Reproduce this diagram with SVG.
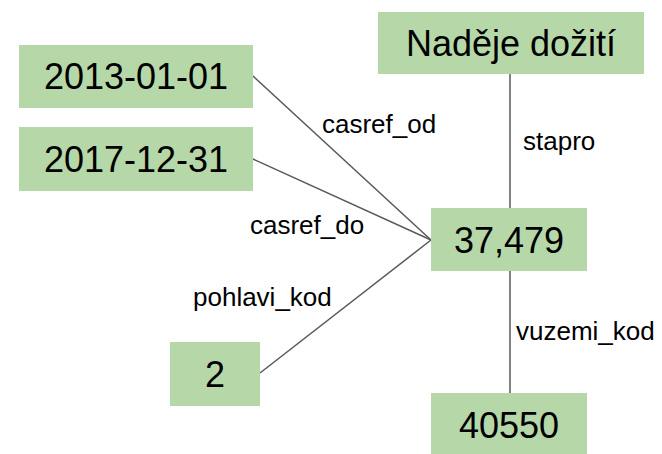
<svg xmlns="http://www.w3.org/2000/svg" width="662" height="454" viewBox="0 0 662 454">
<style>
.box{fill:#b6d7a8;stroke:none}
.nt{font-family:"Liberation Sans",Arial,sans-serif;font-size:36px;fill:#000;text-anchor:middle}
.lb{font-family:"Liberation Sans",Arial,sans-serif;font-size:26px;fill:#000}
.ln{stroke:#595959;stroke-width:1.5;fill:none}
</style>
<rect width="662" height="454" fill="#fff"/>
<g id="connectors">
<line class="ln" x1="253" y1="76" x2="431" y2="240"/>
<line class="ln" x1="253" y1="159" x2="431" y2="240"/>
<line class="ln" x1="260" y1="373" x2="431" y2="240"/>
<line class="ln" x1="510" y1="74" x2="510" y2="208"/>
<line class="ln" x1="510" y1="271" x2="510" y2="393"/>
<text class="lb" x="322" y="133">casref_od</text>
<text class="lb" x="523" y="150">stapro</text>
<text class="lb" x="250" y="234">casref_do</text>
<text class="lb" x="193" y="306">pohlavi_kod</text>
<text class="lb" x="516" y="340">vuzemi_kod</text>
</g>
<g id="n-nadeje"><rect class="box" x="378" y="12" width="266" height="62"/><text class="nt" x="511" y="56">Naděje dožití</text></g>
<g id="n-2013"><rect class="box" x="19" y="45" width="234" height="63"/><text class="nt" x="136" y="89">2013-01-01</text></g>
<g id="n-2017"><rect class="box" x="19" y="127" width="234" height="64"/><text class="nt" x="136" y="172">2017-12-31</text></g>
<g id="n-value"><rect class="box" x="431" y="208" width="156" height="63"/><text class="nt" x="509" y="253">37,479</text></g>
<g id="n-2"><rect class="box" x="170" y="342" width="90" height="64"/><text class="nt" x="215" y="387">2</text></g>
<g id="n-40550"><rect class="box" x="431" y="393" width="156" height="63"/><text class="nt" x="509" y="438">40550</text></g>
</svg>
